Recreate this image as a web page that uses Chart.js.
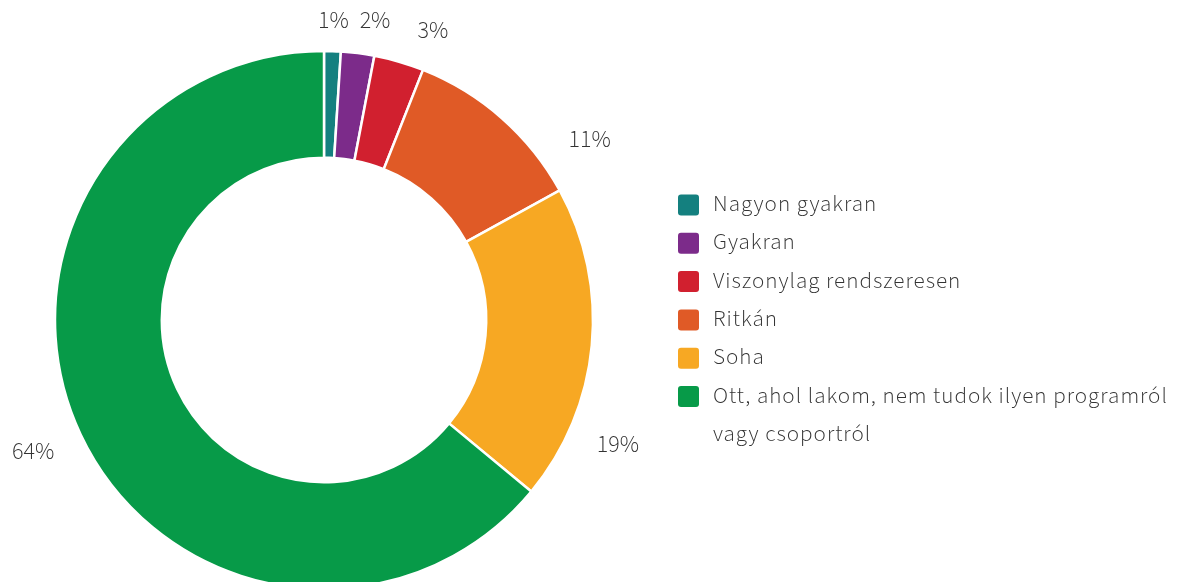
<!DOCTYPE html>
<html>
<head>
<meta charset="utf-8">
<script src="https://cdn.jsdelivr.net/npm/chart.js@4.4.1/dist/chart.umd.min.js"></script>
<style>
  html, body { margin: 0; padding: 0; background: #fff; overflow: hidden; }
  #wrap { position: relative; width: 1184px; height: 582px; }
</style>
</head>
<body>
<div id="wrap"><canvas id="chart"></canvas></div>
<script>
  // ---- data ---------------------------------------------------------
  const categories = [
    'Nagyon gyakran',
    'Gyakran',
    'Viszonylag rendszeresen',
    'Ritkán',
    'Soha',
    ['Ott, ahol lakom, nem tudok ilyen programról', 'vagy csoportról'],
  ];
  const shares = [1, 2, 3, 11, 19, 64];
  const sliceColors = ['#14807f', '#7c2b8a', '#d1202f', '#e05a26', '#f7a823', '#079a48'];
  // the original nudges some value labels clockwise (degrees)
  const labelAngleShift = [0, 2.5, 4.5, 14.6, 17.8, 0.6];

  const FONT = "'Source Sans Pro', 'Source Sans 3', Lato, 'Noto Sans', sans-serif";
  const TEXT = '#333333';

  // ---- value labels outside the ring --------------------------------
  const outsideLabels = {
    id: 'outsideLabels',
    afterDatasetsDraw(chart, args, opts) {
      const ctx = chart.ctx;
      const meta = chart.getDatasetMeta(0);
      ctx.save();
      ctx.font = opts.weight + ' ' + opts.size + 'px ' + FONT;
      ctx.fillStyle = TEXT;
      ctx.textAlign = 'center';
      ctx.textBaseline = 'middle';
      meta.data.forEach((arc, i) => {
        const p = arc.getProps(['x', 'y', 'startAngle', 'endAngle', 'outerRadius'], true);
        const a = (p.startAngle + p.endAngle) / 2 + (labelAngleShift[i] || 0) * Math.PI / 180;
        const text = shares[i] + '%';
        const hw = ctx.measureText(text).width / 2;
        const hh = opts.size * 0.25;
        const c = Math.abs(Math.cos(a)), s = Math.abs(Math.sin(a));
        // keep the text box a constant distance off the ring edge
        const r = p.outerRadius + opts.gap * (c + s) + c * hw + s * hh;
        ctx.fillText(text, p.x + Math.cos(a) * r, p.y + Math.sin(a) * r + 1);
      });
      ctx.restore();
    },
  };

  // ---- legend on the right, with wrapped last item ------------------
  const sideLegend = {
    id: 'sideLegend',
    afterDraw(chart, args, opts) {
      const ctx = chart.ctx;
      const colors = chart.data.datasets[0].backgroundColor;
      ctx.save();
      ctx.font = opts.weight + ' ' + opts.size + 'px ' + FONT;
      ctx.letterSpacing = opts.spacing + 'px';
      ctx.textBaseline = 'middle';
      ctx.textAlign = 'left';
      let y = opts.top;
      chart.data.labels.forEach((label, i) => {
        const lines = Array.isArray(label) ? label : [label];
        ctx.fillStyle = colors[i];
        ctx.beginPath();
        ctx.roundRect(opts.left, y - opts.box / 2, opts.box, opts.box, 3);
        ctx.fill();
        ctx.fillStyle = TEXT;
        lines.forEach((ln, k) => ctx.fillText(ln, opts.textLeft, y + k * opts.rowHeight + 1));
        y += lines.length * opts.rowHeight;
      });
      ctx.restore();
    },
  };

  new Chart(document.getElementById('chart'), {
    type: 'doughnut',
    data: {
      labels: categories,
      datasets: [{
        data: shares,
        backgroundColor: sliceColors,
        borderColor: '#ffffff',
        borderWidth: 2.5,
        hoverOffset: 0,
      }],
    },
    options: {
      responsive: true,
      maintainAspectRatio: false,
      animation: false,
      radius: 269,
      cutout: '60.3%',
      layout: { padding: { left: 56, right: 592, top: 58, bottom: 0 } },
      plugins: {
        legend: { display: false },
        tooltip: { enabled: false },
        outsideLabels: { size: 24, weight: 300, gap: 22 },
        sideLegend: { left: 678, top: 205, box: 21, textLeft: 713, rowHeight: 38.3, size: 23, weight: 300, spacing: 1.0 },
      },
    },
    plugins: [outsideLabels, sideLegend],
  });
</script>
</body>
</html>
